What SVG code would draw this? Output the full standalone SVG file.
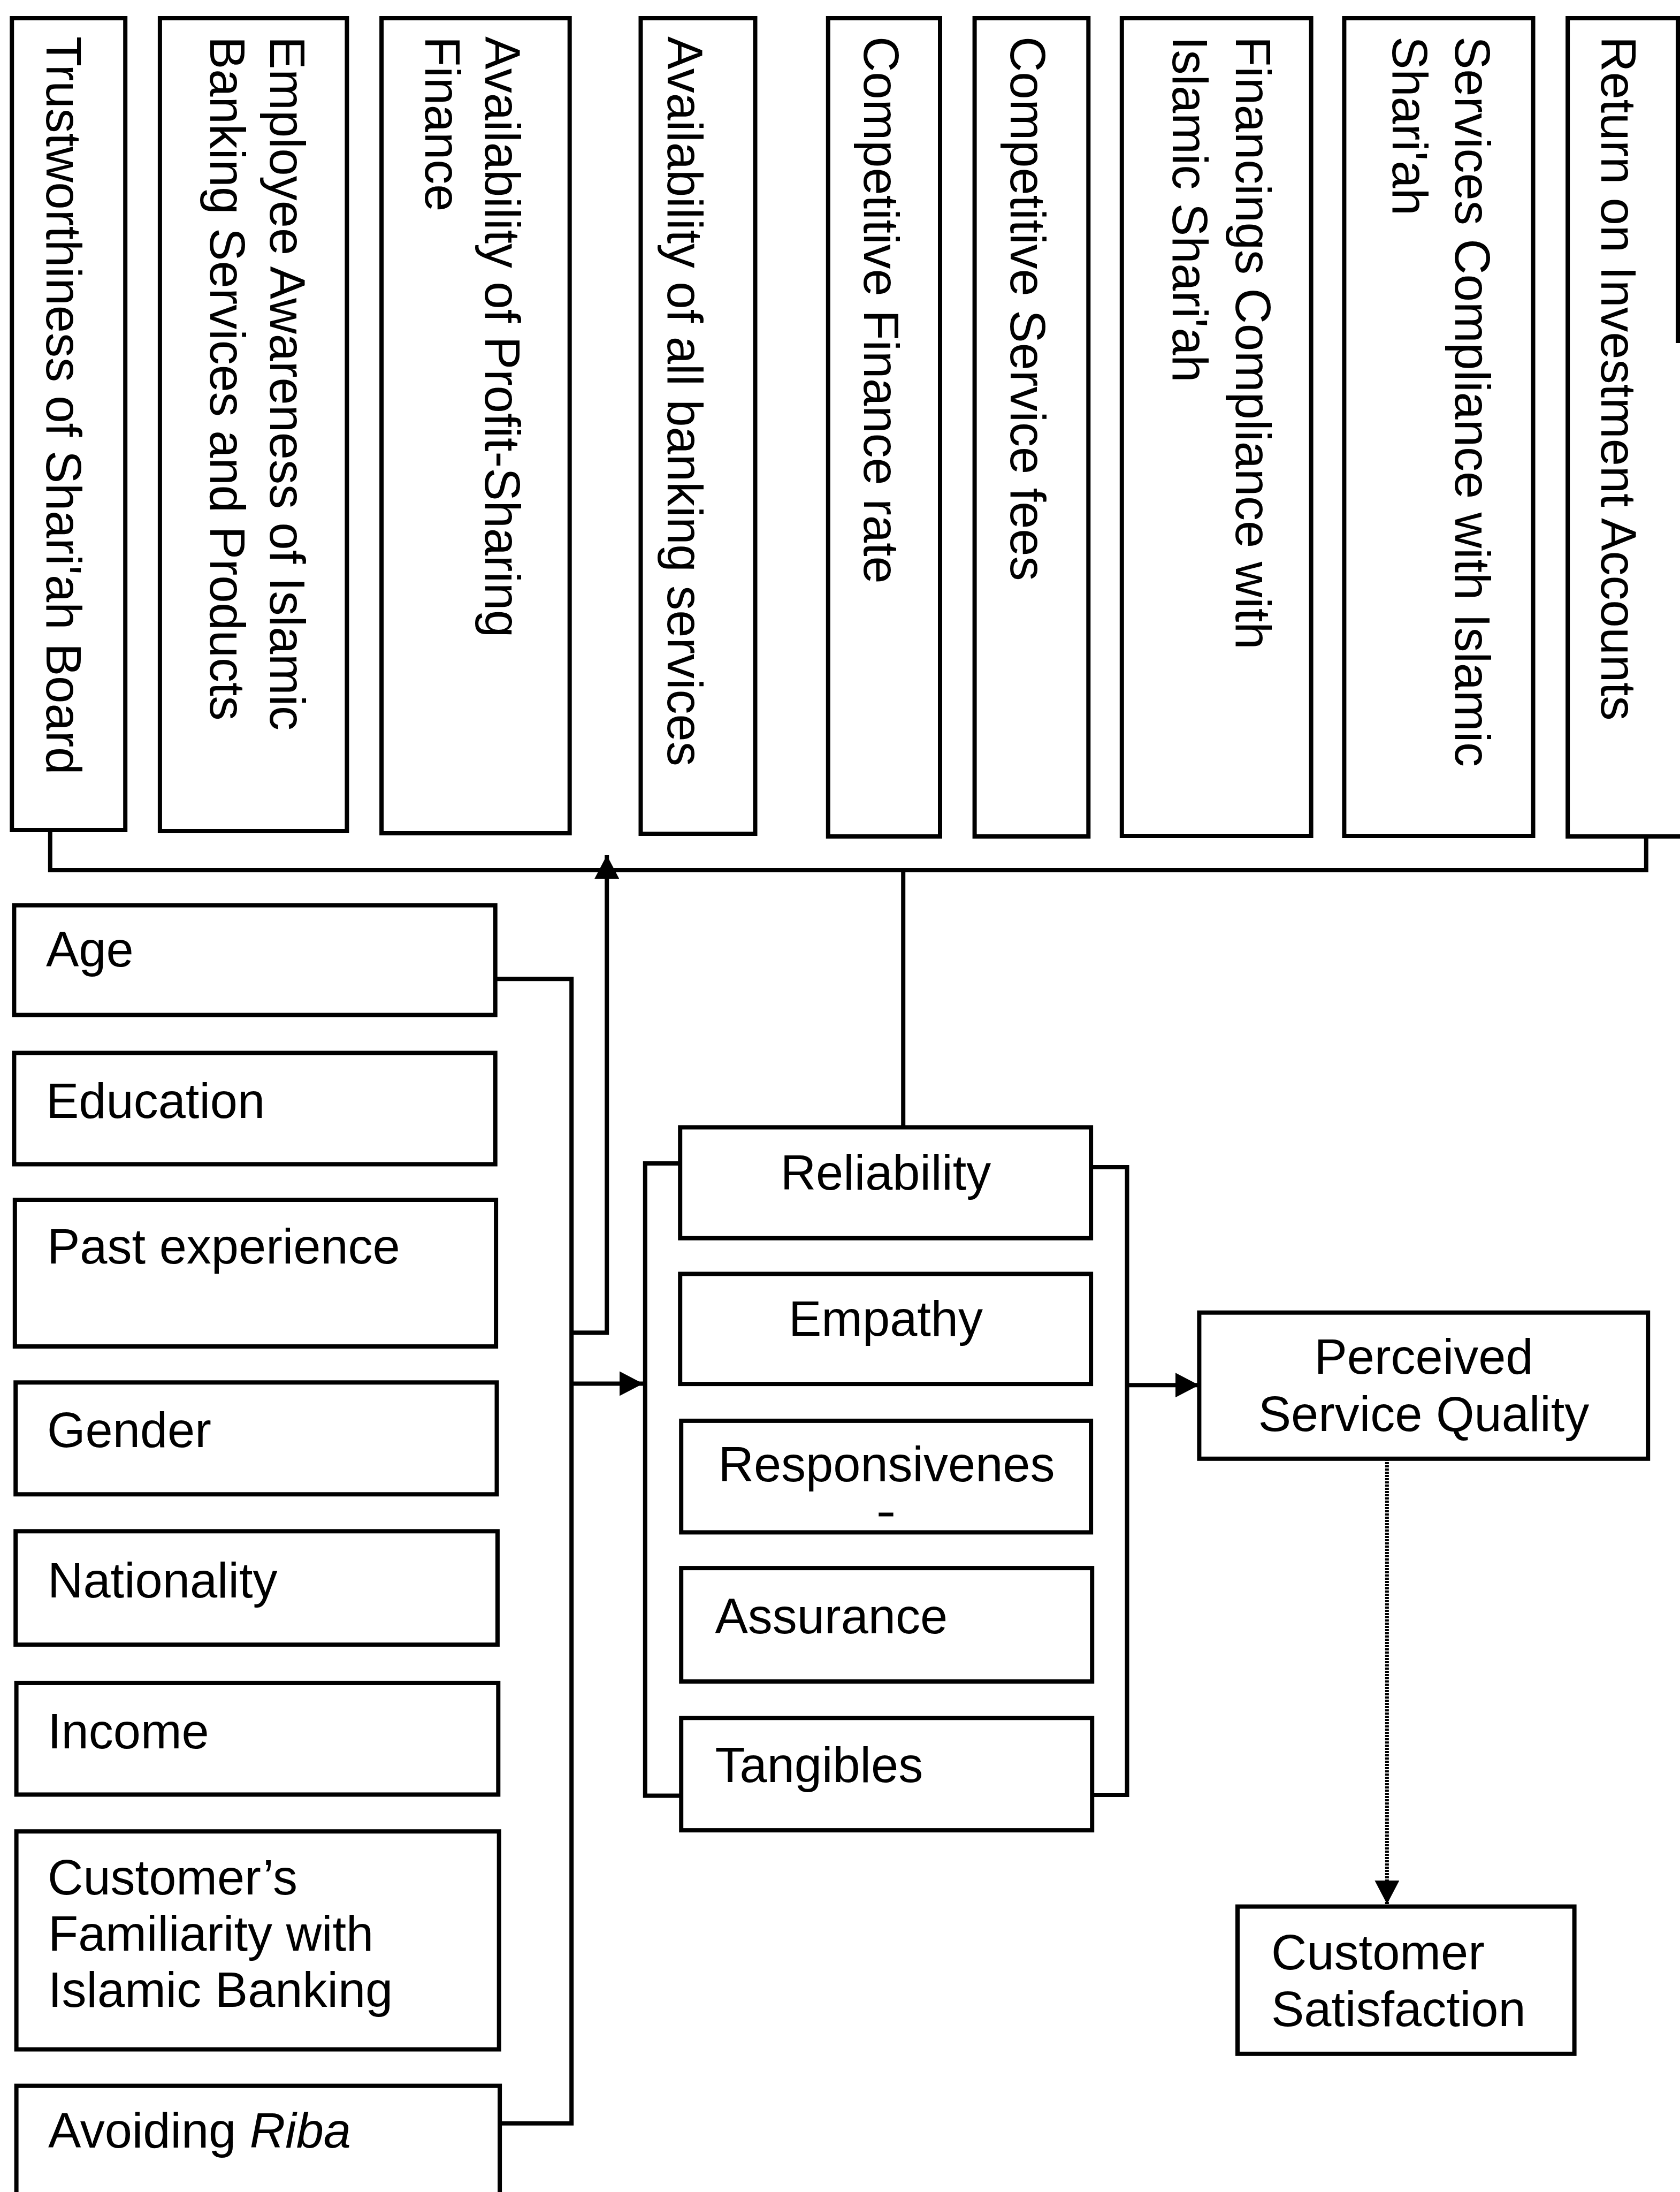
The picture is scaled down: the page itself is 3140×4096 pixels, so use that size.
<svg xmlns="http://www.w3.org/2000/svg" width="3140" height="4096" viewBox="0 0 3140 4096">
<style>
.b{fill:#fff;stroke:#000;stroke-width:8}
.c{fill:none;stroke:#000;stroke-width:8}
.d{fill:none;stroke:#000;stroke-width:7;stroke-dasharray:4 2}
text{font-family:"Liberation Sans",Arial,sans-serif;font-size:92px;fill:#000}
.m{text-anchor:middle}
</style>
<defs>
<marker id="ah" markerUnits="userSpaceOnUse" viewBox="0 0 44 46" refX="44" refY="23" markerWidth="44" markerHeight="46" orient="auto">
<path d="M0,0 L44,23 L0,46 Z" fill="#000"/>
</marker>
</defs>
<rect width="3140" height="4096" fill="#fff"/>

<g id="connectors">
<path class="c" d="M93.8,1551 V1626 H3076.8 V1563"/>
<path class="c" d="M1688.2,1626 V2106.5"/>
<path class="c" d="M1068.2,2490.2 H1134.2 V1598" marker-end="url(#ah)"/>
<path class="c" d="M925.7,1829.2 H1068.2 V3967.8 H934.1"/>
<path class="c" d="M1068.2,2585.4 H1202" marker-end="url(#ah)"/>
<path class="c" d="M1271.2,2174 H1205.8 V3355.5 H1273.2"/>
<path class="c" d="M2039,2181 H2106.5 V3354 H2041"/>
<path class="c" d="M2106.5,2588.2 H2241" marker-end="url(#ah)"/>
<path class="d" d="M2592.4,2726 V3558" marker-end="url(#ah)"/>
</g>

<g id="n-trust"><rect class="b" x="22.2" y="34" width="212" height="1517"/>
<text transform="translate(86.9,68) rotate(90)">Trustworthiness of Shari'ah Board</text></g>
<g id="n-employee"><rect class="b" x="298.9" y="34" width="349.5" height="1519"/>
<text transform="translate(504.6,68) rotate(90)">Employee Awareness of Islamic</text>
<text transform="translate(392.7,68) rotate(90)">Banking Services and Products</text></g>
<g id="n-profit"><rect class="b" x="713.1" y="34" width="351.6" height="1523"/>
<text transform="translate(907,68) rotate(90)">Availability of Profit-Sharing</text>
<text transform="translate(795,68) rotate(90)">Finance</text></g>
<g id="n-allbanking"><rect class="b" x="1197.5" y="34" width="214" height="1524"/>
<text transform="translate(1248.2,68) rotate(90)">Availability of all banking services</text></g>
<g id="n-finrate"><rect class="b" x="1547.8" y="34" width="209.2" height="1529"/>
<text transform="translate(1615.2,68) rotate(90)">Competitive Finance rate</text></g>
<g id="n-fees"><rect class="b" x="1821.6" y="34" width="212.7" height="1529"/>
<text transform="translate(1889,68) rotate(90)">Competitive Service fees</text></g>
<g id="n-fincompliance"><rect class="b" x="2096.8" y="34" width="353.8" height="1528"/>
<text transform="translate(2310,68) rotate(90)">Financings Compliance with</text>
<text transform="translate(2192,68) rotate(90)">Islamic Shari'ah</text></g>
<g id="n-servcompliance"><rect class="b" x="2512.4" y="34" width="353.1" height="1528"/>
<text transform="translate(2720,68) rotate(90)">Services Compliance with Islamic</text>
<text transform="translate(2603,68) rotate(90)">Shari'ah</text></g>
<g id="n-return"><path class="c" d="M3144,34 H2930.1 V1563 H3144 M3136,34 V641"/>
<text transform="translate(2992.7,68) rotate(90)">Return on Investment Accounts</text></g>

<g id="n-age"><rect class="b" x="26.4" y="1691.6" width="899.3" height="205"/><text x="86" y="1805.6">Age</text></g>
<g id="n-education"><rect class="b" x="26.4" y="1967.5" width="899.3" height="208"/><text x="86" y="2088.5">Education</text></g>
<g id="n-past"><rect class="b" x="27.8" y="2242" width="899.3" height="274"/><text x="88" y="2361">Past experience</text></g>
<g id="n-gender"><rect class="b" x="29.2" y="2583.3" width="899.3" height="209"/><text x="88" y="2703.6">Gender</text></g>
<g id="n-nationality"><rect class="b" x="29.2" y="2861.3" width="900.7" height="212"/><text x="89" y="2985">Nationality</text></g>
<g id="n-income"><rect class="b" x="30.6" y="3144.9" width="900.7" height="208.5"/><text x="89" y="3267">Income</text></g>
<g id="n-familiarity"><rect class="b" x="30.6" y="3422.2" width="902.1" height="407.3"/>
<text x="89" y="3539.6">Customer’s</text><text x="90" y="3644.6">Familiarity with</text><text x="90" y="3750.2">Islamic Banking</text></g>
<g id="n-riba"><rect class="b" x="30.6" y="3897.6" width="903.5" height="220"/><text x="90" y="4013">Avoiding <tspan font-style="italic">Riba</tspan></text></g>

<g id="n-reliability"><rect class="b" x="1271.2" y="2106.5" width="767.9" height="207.2"/><text class="m" x="1655.5" y="2223.3">Reliability</text></g>
<g id="n-empathy"><rect class="b" x="1271.2" y="2380.4" width="767.9" height="205.7"/><text class="m" x="1655.5" y="2496.4">Empathy</text></g>
<g id="n-responsiveness"><rect class="b" x="1273.2" y="2654.9" width="765.9" height="208.5"/><text class="m" x="1657" y="2767.5">Responsivenes<tspan x="1656" y="2843" font-size="50" stroke="#000" stroke-width="3" textLength="30" lengthAdjust="spacingAndGlyphs">-</tspan></text></g>
<g id="n-assurance"><rect class="b" x="1273.2" y="2930.1" width="768" height="212"/><text x="1336.5" y="3052.4">Assurance</text></g>
<g id="n-tangibles"><rect class="b" x="1273.2" y="3210.2" width="768" height="209.9"/><text x="1336.5" y="3329.7">Tangibles</text></g>

<g id="n-psq"><rect class="b" x="2241.4" y="2452.7" width="838.8" height="273.1"/>
<text class="m" x="2661" y="2567.3">Perceived</text><text class="m" x="2661" y="2673.7">Service Quality</text></g>
<g id="n-satisfaction"><rect class="b" x="2313" y="3562.6" width="629.6" height="275.2"/>
<text x="2376" y="3680">Customer</text><text x="2376" y="3786.4">Satisfaction</text></g>
</svg>
